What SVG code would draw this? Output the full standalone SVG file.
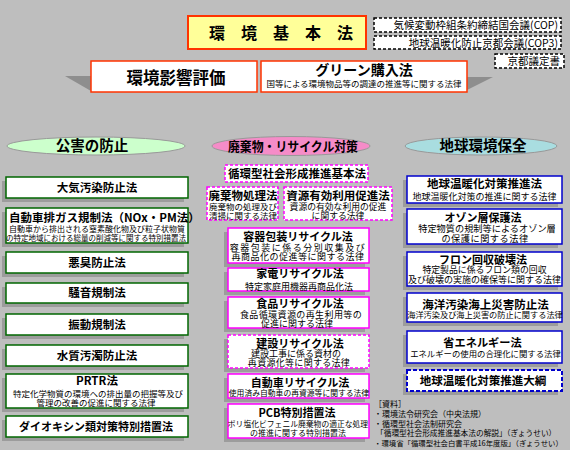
<svg xmlns="http://www.w3.org/2000/svg" width="570" height="450" viewBox="0 0 570 450">
<style>
text{font-family:"Noto Sans CJK JP","Noto Sans",sans-serif;fill:#000}
.t{font-weight:bold;text-anchor:middle}
.s{text-anchor:middle}
.sh{fill:#9c9c9c}
.g{fill:#fff;stroke:#006600;stroke-width:1.5}
.m{fill:#fff;stroke:#ff00ff;stroke-width:1.5}
.md{fill:#fff;stroke:#ff00ff;stroke-width:1.5;stroke-dasharray:3 2}
.b{fill:#fff;stroke:#0000cc;stroke-width:1.5}
.bd{fill:#fff;stroke:#0000cc;stroke-width:2;stroke-dasharray:4 2}
.k{fill:#fff;stroke:#000;stroke-width:1.5;stroke-dasharray:3 2}
.r{fill:#fff;stroke:#ff3300;stroke-width:1.5}
</style>
<rect width="570" height="450" fill="#bebebe"/>

<g id="kankyo-kihon">
<rect x="188" y="16" width="178" height="33" fill="#ffff99" stroke="#ff3300" stroke-width="2"/>
<text class="t" x="281" y="39" font-size="16">環　境　基　本　法</text>
</g>
<g id="cop">
<rect class="k" x="374" y="18" width="187" height="14"/>
<text x="558" y="29" font-size="10.5" text-anchor="end">気候変動枠組条約締結国会議(COP)</text>
</g>
<g id="cop3">
<rect class="k" x="374" y="36" width="187" height="13"/>
<text x="558" y="46.5" font-size="10.5" text-anchor="end">地球温暖化防止京都会議(COP3)</text>
</g>
<g id="kyoto">
<rect class="k" x="495" y="54" width="69" height="14"/>
<text x="560" y="65" font-size="10.5" text-anchor="end">京都議定書</text>
</g>

<g id="eikyo">
<polygon points="65,76 91,76 91,91" fill="#8e8e8e"/>
<rect class="r" x="91" y="61" width="166" height="31"/>
<text class="t" x="176" y="84" font-size="16.5">環境影響評価</text>
</g>
<g id="green">
<polygon points="467,77 493,77 467,90" fill="#8e8e8e"/>
<rect class="r" x="261" y="61" width="206" height="31"/>
<text class="t" x="364" y="75" font-size="14">グリーン購入法</text>
<text class="s" x="364" y="87" font-size="8.5">国等による環境物品等の調達の推進等に関する法律</text>
</g>

<g id="kogai">
<ellipse cx="96" cy="146" rx="89" ry="9" fill="#ccffcc" stroke="#999" stroke-width="1"/>
<text class="t" x="92" y="151" font-size="14.5">公害の防止</text>
</g>
<g id="haikibutsu">
<ellipse cx="291" cy="146" rx="79" ry="9.5" fill="#f58cc8" stroke="#999" stroke-width="1"/>
<text class="t" x="293" y="151" font-size="13" textLength="130" lengthAdjust="spacingAndGlyphs">廃棄物・リサイクル対策</text>
</g>
<g id="chikyu">
<ellipse cx="481" cy="146" rx="76" ry="9" fill="#a9dde0" stroke="#999" stroke-width="1"/>
<text class="t" x="483" y="151" font-size="14.5">地球環境保全</text>
</g>

<!-- left column -->
<g id="taiki"><rect class="sh" x="2" y="181" width="182" height="21"/><rect class="g" x="6" y="177" width="182" height="21"/>
<text class="t" x="97" y="192" font-size="11.5">大気汚染防止法</text></g>
<g id="nox"><rect class="sh" x="2" y="212" width="182" height="35"/><rect class="g" x="6" y="208" width="182" height="35"/>
<text x="9" y="221.5" font-size="11.5" font-weight="bold">自動車排ガス規制法（NOx・PM法）</text>
<text class="s" x="97" y="232" font-size="8">自動車から排出される窒素酸化物及び粒子状物質</text>
<text class="s" x="96" y="241" font-size="7.5">の特定地域における総量の削減等に関する特別措置法</text></g>
<g id="akushu"><rect class="sh" x="2" y="256" width="182" height="21"/><rect class="g" x="6" y="252" width="182" height="21"/>
<text class="t" x="97" y="267" font-size="11.5">悪臭防止法</text></g>
<g id="soon"><rect class="sh" x="2" y="287" width="182" height="20"/><rect class="g" x="6" y="283" width="182" height="20"/>
<text class="t" x="97" y="297" font-size="11.5">騒音規制法</text></g>
<g id="shindo"><rect class="sh" x="2" y="318" width="182" height="21"/><rect class="g" x="6" y="314" width="182" height="21"/>
<text class="t" x="97" y="329" font-size="11.5">振動規制法</text></g>
<g id="suishitsu"><rect class="sh" x="2" y="349" width="182" height="21"/><rect class="g" x="6" y="345" width="182" height="21"/>
<text class="t" x="97" y="360" font-size="11.5">水質汚濁防止法</text></g>
<g id="prtr"><rect class="sh" x="2" y="378" width="182" height="34"/><rect class="g" x="6" y="374" width="182" height="34"/>
<text class="t" x="97" y="385" font-size="11.5">PRTR法</text>
<text class="s" x="98" y="396.5" font-size="8.5">特定化学物質の環境への排出量の把握等及び</text>
<text class="s" x="96" y="406" font-size="8.5">管理の改善の促進に関する法律</text></g>
<g id="dioxin"><rect class="sh" x="2" y="420" width="182" height="21"/><rect class="g" x="6" y="416" width="182" height="21"/>
<text class="t" x="96" y="431" font-size="11">ダイオキシン類対策特別措置法</text></g>

<!-- middle column -->
<g id="junkan"><rect class="md" x="225" y="165" width="143" height="17"/>
<text class="t" x="297" y="178" font-size="11.5">循環型社会形成推進基本法</text></g>
<g id="haikishori"><rect class="md" x="207" y="187" width="71" height="33"/>
<text class="t" x="243" y="200" font-size="11.5">廃棄物処理法</text>
<text class="s" x="243" y="209.5" font-size="8.5">廃棄物の処理及び</text>
<text class="s" x="243" y="218.5" font-size="8.5">清掃に関する法律</text></g>
<g id="shigen"><rect class="md" x="284" y="187" width="108" height="33"/>
<text class="t" x="338" y="200" font-size="11.5">資源有効利用促進法</text>
<text class="s" x="338" y="209.5" font-size="8.8">資源の有効な利用の促進</text>
<text class="s" x="338" y="218.5" font-size="8.8">に関する法律</text></g>
<g id="yoki"><rect class="sh" x="224" y="232" width="141" height="35"/><rect class="m" x="228" y="228" width="141" height="35"/>
<text class="t" x="298" y="241" font-size="11">容器包装リサイクル法</text>
<text class="s" x="298" y="251" font-size="9" letter-spacing="1.5">容器包装に係る分別収集及び</text>
<text class="s" x="298" y="260" font-size="9" letter-spacing="0.5">再商品化の促進等に関する法律</text></g>
<g id="kaden"><rect class="sh" x="224" y="272" width="141" height="23"/><rect class="m" x="228" y="268" width="141" height="23"/>
<text class="t" x="300" y="278" font-size="11">家電リサイクル法</text>
<text class="s" x="299" y="289.5" font-size="9">特定家庭用機器再商品化法</text></g>
<g id="shokuhin"><rect class="sh" x="224" y="301" width="141" height="31"/><rect class="m" x="228" y="297" width="141" height="31"/>
<text class="t" x="300" y="308" font-size="11">食品リサイクル法</text>
<text class="s" x="301" y="317.5" font-size="9" letter-spacing="0.4">食品循環資源の再生利用等の</text>
<text class="s" x="297" y="326.5" font-size="9">促進に関する法律</text></g>
<g id="kensetsu"><rect class="sh" x="224" y="339" width="141" height="33"/><rect class="md" x="228" y="335" width="141" height="33" stroke-dasharray="2 1.5"/>
<text class="t" x="300" y="347.5" font-size="11">建設リサイクル法</text>
<text class="s" x="296" y="356.5" font-size="9">建設工事に係る資材の</text>
<text class="s" x="299" y="365.5" font-size="9" letter-spacing="0.3">再資源化等に関する法律</text></g>
<g id="jidosha"><rect class="sh" x="224" y="378" width="141" height="24"/><rect class="m" x="228" y="374" width="141" height="24"/>
<text class="t" x="300" y="386.5" font-size="11">自動車リサイクル法</text>
<text class="s" x="299" y="395.5" font-size="7.8">使用済み自動車の再資源等に関する法律</text></g>
<g id="pcb"><rect class="sh" x="224" y="408" width="141" height="34"/><rect class="m" x="228" y="404" width="141" height="34"/>
<text class="t" x="297" y="416.5" font-size="11">PCB特別措置法</text>
<text class="s" x="298" y="426.5" font-size="7.8">ポリ塩化ビフェニル廃棄物の適正な処理</text>
<text class="s" x="298" y="435.5" font-size="8">の推進に関する特別措置法</text></g>

<!-- right column -->
<g id="ondanka"><rect class="sh" x="403" y="180" width="155" height="27"/><rect class="b" x="407" y="176" width="155" height="27"/>
<text class="t" x="484.5" y="187.5" font-size="11.5">地球温暖化対策推進法</text>
<text class="s" x="484.5" y="199.5" font-size="9">地球温暖化対策の推進に関する法律</text></g>
<g id="ozone"><rect class="sh" x="403" y="213" width="155" height="35"/><rect class="b" x="407" y="209" width="155" height="35"/>
<text class="t" x="483" y="221.5" font-size="11">オゾン層保護法</text>
<text class="s" x="487" y="231.5" font-size="9.2">特定物質の規制等によるオゾン層</text>
<text class="s" x="485" y="241.5" font-size="9.2" letter-spacing="0.5">の保護に関する法律</text></g>
<g id="freon"><rect class="sh" x="403" y="256" width="155" height="34"/><rect class="b" x="407" y="252" width="155" height="34"/>
<text class="t" x="483" y="263.5" font-size="11">フロン回収破壊法</text>
<text class="s" x="484.5" y="273" font-size="8.9">特定製品に係るフロン類の回収</text>
<text class="s" x="484.5" y="283" font-size="9">及び破壊の実施の確保等に関する法律</text></g>
<g id="kaiyo"><rect class="sh" x="403" y="297" width="155" height="29"/><rect class="b" x="407" y="293" width="155" height="29"/>
<text class="t" x="485.5" y="308.5" font-size="11.5">海洋汚染海上災害防止法</text>
<text class="s" x="485" y="317.5" font-size="8.2">海洋汚染及び海上災害の防止に関する法律</text></g>
<g id="shoene"><rect class="sh" x="403" y="335" width="155" height="32"/><rect class="b" x="407" y="331" width="155" height="32"/>
<text class="t" x="482.5" y="346.5" font-size="11.2">省エネルギー法</text>
<text class="s" x="485.5" y="356.5" font-size="8.4">エネルギーの使用の合理化に関する法律</text></g>
<g id="taiko"><rect class="sh" x="403" y="374" width="155" height="21"/><rect class="bd" x="407" y="370" width="155" height="21"/>
<text class="t" x="483" y="385" font-size="11.5">地球温暖化対策推進大綱</text></g>

<g id="sources" font-size="8">
<text x="374" y="407">［資料］</text>
<text x="374" y="417">・環境法令研究会（中央法規）</text>
<text x="374" y="426.5">・循環型社会法制研究会</text>
<text x="376" y="436" font-size="7.7">「循環型社会形成推進基本法の解説」（ぎょうせい）</text>
<text x="374" y="446" font-size="7.4">・環境省「循環型社会白書平成16年度版」（ぎょうせい）</text>
</g>
<g id="connectors"></g>
</svg>
